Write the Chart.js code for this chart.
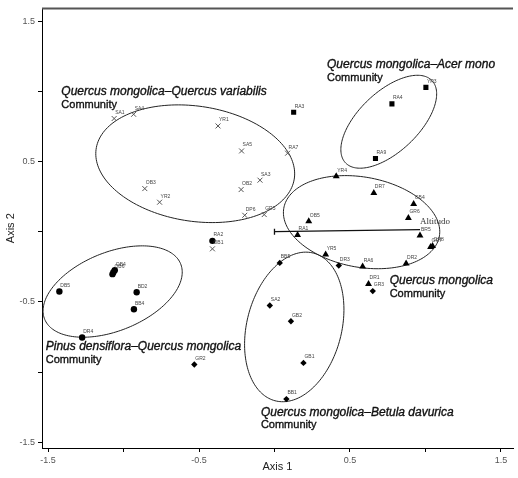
<!DOCTYPE html>
<html>
<head>
<meta charset="utf-8">
<script src="https://cdn.jsdelivr.net/npm/chart.js@4.4.0/dist/chart.umd.min.js"></script>
<style>
  html, body { margin: 0; padding: 0; background: #fff; }
  #wrap { width: 518px; height: 478px; }
</style>
</head>
<body>
<div id="wrap"><canvas id="ord" width="518" height="478"></canvas></div>
<script>
// Axis ticks
const axisTicks = [-1.5, -1, -0.5, 0, 0.5, 1, 1.5];
const axisTickLabels = ['-1.5', '', '-0.5', '', '0.5', '', '1.5'];

// Quercus mongolica-Quercus variabilis (x marks)
const qvNames = ['SA1', 'SA4', 'YR1', 'SA5', 'RA7', 'SA3', 'OB2', 'OB3', 'YR2', 'DP6', 'GR5', 'OB1'];
const qvX = [-1.062, -0.933, -0.374, -0.218, 0.087, -0.096, -0.221, -0.859, -0.761, -0.197, -0.068, -0.411];
const qvY = [0.806, 0.836, 0.753, 0.575, 0.559, 0.367, 0.300, 0.307, 0.210, 0.117, 0.122, -0.122];

// Quercus mongolica-Acer mono (squares)
const amNames = ['YR3', 'RA4', 'RA9', 'RA3'];
const amX = [1.003, 0.778, 0.669, 0.127];
const amY = [1.028, 0.910, 0.521, 0.851];

// Quercus mongolica (triangles)
const qmNames = ['YR4', 'DR7', 'GB4', 'GR6', 'OB5', 'RA1', 'BR5', 'GR7', 'GR8', 'YR5', 'RA6', 'DR2', 'DR1'];
const qmX = [0.409, 0.658, 0.922, 0.887, 0.227, 0.153, 0.964, 1.034, 1.047, 0.339, 0.584, 0.872, 0.623];
const qmY = [0.395, 0.276, 0.198, 0.098, 0.075, -0.023, -0.027, -0.108, -0.101, -0.162, -0.248, -0.226, -0.372];

// Quercus mongolica-Betula davurica (diamonds)
const bdNames = ['BB5', 'SA2', 'GB2', 'GB1', 'BB1', 'DR3', 'GR3', 'GR2'];
const bdX = [0.035, -0.031, 0.109, 0.192, 0.079, 0.426, 0.651, -0.531];
const bdY = [-0.222, -0.525, -0.637, -0.934, -1.192, -0.241, -0.423, -0.945];

// Pinus densiflora-Quercus mongolica (circles)
const pdNames = ['RA2', 'OB4', 'OB6', '', 'DB5', 'BD2', 'BB4', 'DR4'];
const pdX = [-0.411, -1.058, -1.067, -1.073, -1.425, -0.913, -0.931, -1.274];
const pdY = [-0.065, -0.274, -0.288, -0.302, -0.426, -0.431, -0.552, -0.753];

// community ellipses: centre, semi-axes (data units), rotation (deg)
const ellCx = [-0.525, 0.757, 0.577, 0.131, -1.072];
const ellCy = [0.484, 0.783, 0.068, -0.678, -0.426];
const ellRx = [0.665, 0.41, 0.525, 0.315, 0.492];
const ellRy = [0.409, 0.205, 0.320, 0.541, 0.276];
const ellRot = [-10, 47, -12, -12.5, 25];

// community names
const commItalic = ['Quercus mongolica\u2013Quercus variabilis', 'Quercus mongolica\u2013Acer mono',
  'Pinus densiflora\u2013Quercus mongolica', 'Quercus mongolica', 'Quercus mongolica\u2013Betula davurica'];
const commX = [-1.412, 0.348, -1.515, 0.763, -0.090];
const commY = [0.995, 1.190, -0.820, -0.350, -1.287];

// altitude vector
const altX = [0, 0.964];
const altY = [0, 0.015];

const pts = (xs, ys) => xs.map((x, i) => ({ x: x, y: ys[i] }));
const allNames = [qvNames, amNames, qmNames, bdNames, pdNames];

const overlay = {
  id: 'overlay',
  beforeDatasetsDraw(chart) {
    const { ctx, scales: { x, y }, chartArea } = chart;
    ctx.save();
    // top frame line
    ctx.strokeStyle = '#555';
    ctx.lineWidth = 2;
    ctx.beginPath();
    ctx.moveTo(chartArea.left, chartArea.top);
    ctx.lineTo(chartArea.right, chartArea.top);
    ctx.stroke();

    // ellipses
    ctx.strokeStyle = '#222';
    ctx.lineWidth = 1;
    ellCx.forEach((cx, k) => {
      const r = ellRot[k] * Math.PI / 180;
      ctx.beginPath();
      for (let i = 0; i <= 180; i++) {
        const t = i / 180 * Math.PI * 2;
        const dx = ellRx[k] * Math.cos(t), dy = ellRy[k] * Math.sin(t);
        const px = x.getPixelForValue(cx + dx * Math.cos(r) - dy * Math.sin(r));
        const py = y.getPixelForValue(ellCy[k] + dx * Math.sin(r) + dy * Math.cos(r));
        if (i === 0) ctx.moveTo(px, py); else ctx.lineTo(px, py);
      }
      ctx.closePath();
      ctx.stroke();
    });

    // altitude vector
    const x0 = x.getPixelForValue(altX[0]), y0 = y.getPixelForValue(altY[0]);
    const x1 = x.getPixelForValue(altX[1]), y1 = y.getPixelForValue(altY[1]);
    ctx.strokeStyle = '#111';
    ctx.lineWidth = 1.3;
    ctx.beginPath();
    ctx.moveTo(x0, y0); ctx.lineTo(x1, y1);
    ctx.moveTo(x0, y0 - 3); ctx.lineTo(x0, y0 + 3);
    ctx.stroke();
    ctx.fillStyle = '#333';
    ctx.font = '9px "Liberation Serif", serif';
    ctx.textBaseline = 'middle';
    ctx.textAlign = 'left';
    ctx.fillText('Altitudo', x1, y1 - 8);
    ctx.restore();
  },
  afterDatasetsDraw(chart) {
    const { ctx, scales: { x, y } } = chart;
    ctx.save();
    // point labels
    ctx.fillStyle = '#444';
    ctx.font = '5px Arial, "Liberation Sans", sans-serif';
    ctx.textAlign = 'left';
    ctx.textBaseline = 'middle';
    chart.data.datasets.forEach((ds, di) => {
      chart.getDatasetMeta(di).data.forEach((el, i) => {
        const name = allNames[di][i];
        if (name) ctx.fillText(name, el.x + 1, el.y - 6);
      });
    });
    // community labels, slightly heavier like the print
    ctx.fillStyle = '#111';
    ctx.strokeStyle = '#111';
    ctx.lineWidth = 0.35;
    commItalic.forEach((t, k) => {
      const px = x.getPixelForValue(commX[k]), py = y.getPixelForValue(commY[k]);
      ctx.font = 'italic 12px Arial, "Liberation Sans", sans-serif';
      ctx.fillText(t, px, py);
      ctx.strokeText(t, px, py);
      ctx.font = '11px Arial, "Liberation Sans", sans-serif';
      ctx.fillText('Community', px, py + 13);
      ctx.strokeText('Community', px, py + 13);
    });
    ctx.restore();
  }
};

const tickFont = { family: 'Arial, "Liberation Sans", sans-serif', size: 9 };
const titleFont = { family: 'Arial, "Liberation Sans", sans-serif', size: 11 };

function axisOpts(extra) {
  return Object.assign({
    type: 'linear',
    afterBuildTicks: s => { s.ticks = axisTicks.map(v => ({ value: v })); },
    ticks: {
      font: tickFont, color: '#555', padding: 3,
      callback: v => axisTickLabels[axisTicks.findIndex(t => Math.abs(t - v) < 1e-6)] || ''
    },
    grid: { drawOnChartArea: false, drawTicks: true, tickLength: 4, color: '#000', tickWidth: 1 },
    border: { display: true, color: '#000', width: 1 }
  }, extra);
}

new Chart(document.getElementById('ord'), {
  type: 'scatter',
  data: {
    datasets: [
      { data: pts(qvX, qvY), pointStyle: 'crossRot', radius: 3.5, borderColor: '#555', borderWidth: 1, backgroundColor: '#555' },
      { data: pts(amX, amY), pointStyle: 'rect', radius: 3.6, borderColor: '#000', backgroundColor: '#000', borderWidth: 0 },
      { data: pts(qmX, qmY), pointStyle: 'triangle', radius: 4, borderColor: '#000', backgroundColor: '#000', borderWidth: 0 },
      { data: pts(bdX, bdY), pointStyle: 'rectRot', radius: 3.2, borderColor: '#000', backgroundColor: '#000', borderWidth: 0 },
      { data: pts(pdX, pdY), pointStyle: 'circle', radius: 3.2, borderColor: '#000', backgroundColor: '#000', borderWidth: 0 }
    ]
  },
  options: {
    responsive: false,
    animation: false,
    layout: { padding: { top: 8, right: 0, left: 0, bottom: 0 } },
    plugins: { legend: { display: false }, tooltip: { enabled: false } },
    scales: {
      x: axisOpts({
        min: -1.54, max: 1.58,
        afterFit: s => { s.height = 30; },
        title: { display: true, text: 'Axis 1', font: titleFont, color: '#222', padding: { top: 2, bottom: 4 } }
      }),
      y: axisOpts({
        min: -1.54, max: 1.59,
        afterFit: s => { s.width = 42; },
        title: { display: true, text: 'Axis 2', font: titleFont, color: '#222', padding: { top: 4, bottom: 2 } }
      })
    }
  },
  plugins: [overlay]
});
</script>
</body>
</html>
